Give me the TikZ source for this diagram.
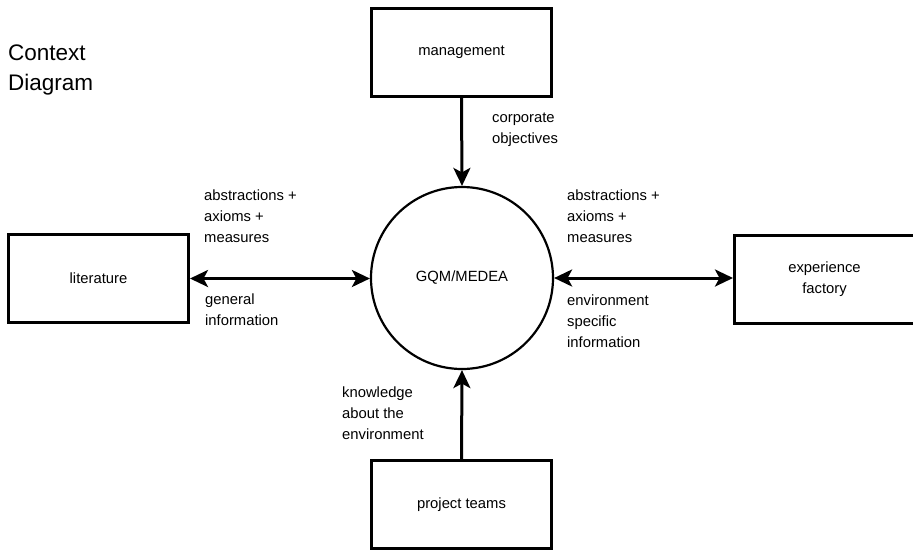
\documentclass[tikz,border=0pt]{standalone}
\usepackage{fontspec}
\setmainfont{Liberation Sans}
\usetikzlibrary{arrows.meta}
\begin{document}
\begin{tikzpicture}[x=1pt,y=-1pt,
  box/.style={draw,line width=3pt,minimum width=180pt,minimum height=88pt,inner sep=0pt,font=\fontsize{14.8}{21}\selectfont,align=center},
  lbl/.style={anchor=west,inner sep=0pt,align=left,font=\fontsize{14.8}{21}\selectfont},
  tip/.style={Stealth[length=18pt,width=17pt,inset=4.5pt]},
  arr/.style={line width=3pt,-{Stealth[length=18pt,width=17pt,inset=4.5pt]}},
  darr/.style={line width=3pt,{Stealth[length=18pt,width=17pt,inset=4.5pt]}-{Stealth[length=18pt,width=17pt,inset=4.5pt]}}]
\useasboundingbox (0,0) rectangle (913,550);
\node[anchor=west,inner sep=0pt,align=left,font=\fontsize{22.5}{30}\selectfont] (title) at (8,70) {Context\\Diagram};
\node[box] (mgmt) at (461.5,52) {management};
\node[box] (lit) at (98.5,278.5) {literature};
\node[box] (exp) at (824.5,279.5) {experience\\factory};
\node[box] (proj) at (461.5,504.5) {project teams};
\node[draw,circle,line width=2.2pt,minimum size=182pt,inner sep=0pt,font=\fontsize{14.8}{21}\selectfont] (gqm) at (462,278) {GQM/MEDEA};
\draw[arr] (mgmt.south) -- (gqm.north);
\draw[arr] (proj.north) -- (gqm.south);
\draw[darr] (lit.east) -- (lit.east -| gqm.west);
\draw[darr] (gqm.east) -- (gqm.east -| exp.west);
\node[lbl] (l1) at (492,130) {corporate\\objectives};
\node[lbl] (l2) at (204,216) {abstractions +\\axioms +\\measures};
\node[lbl] (l3) at (567,216) {abstractions +\\axioms +\\measures};
\node[lbl] (l4) at (205,310) {general\\information};
\node[lbl] (l5) at (567,321) {environment\\specific\\information};
\node[lbl] (l6) at (342,413) {knowledge\\about the\\environment};
\end{tikzpicture}
\end{document}
